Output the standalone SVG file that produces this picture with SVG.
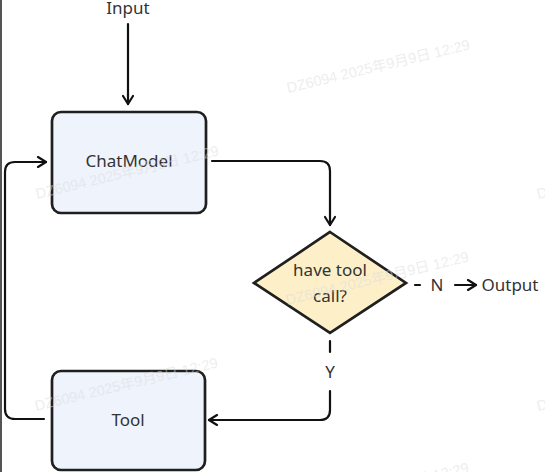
<svg xmlns="http://www.w3.org/2000/svg" width="545" height="472" viewBox="0 0 545 472">
<defs>
<style>
.node{stroke:#1f1f1f;stroke-width:2.7}
.box{fill:#eef3fc}
.dia{fill:#fdefc8}
.lbl{font-family:"Noto Sans","Open Sans",sans-serif;font-size:17px;fill:#333;text-anchor:middle}
.edge{fill:none;stroke:#111;stroke-width:2.2;stroke-linecap:round;stroke-linejoin:round}
.wm{font-family:"Liberation Sans","Noto Sans CJK SC",sans-serif;font-size:14.5px;fill:#dcdcdc;fill-opacity:0.5}
</style>
<marker id="arr" viewBox="0 0 12 12" refX="10" refY="6" markerWidth="12" markerHeight="12" markerUnits="userSpaceOnUse" orient="auto">
<path d="M2,1 L10,6 L2,11" fill="none" stroke="#111" stroke-width="2.2" stroke-linecap="round" stroke-linejoin="round"/>
</marker>
</defs>
<rect x="0" y="0" width="545" height="472" fill="#ffffff"/>
<rect x="0" y="0" width="2" height="472" fill="#555"/>
<g id="connectors">
<line class="edge" x1="128" y1="24" x2="128" y2="104" marker-end="url(#arr)"/>
<path class="edge" d="M212,161 H320 Q330,161 330,171 V225" marker-end="url(#arr)"/>
<line class="edge" x1="415" y1="285" x2="420" y2="285"/>
<line class="edge" x1="455" y1="285" x2="476" y2="285" marker-end="url(#arr)"/>
<line class="edge" x1="330" y1="341" x2="330" y2="352"/>
<path class="edge" d="M330,391 V410 Q330,420 320,420 H209" marker-end="url(#arr)"/>
<path class="edge" d="M44,419 H15 Q5,419 5,409 V172 Q5,162 15,162 H46" marker-end="url(#arr)"/>
</g>
<g id="input">
<text class="lbl" x="128" y="14">Input</text>
</g>
<g id="chatmodel">
<rect class="node box" x="52" y="112" width="154" height="101" rx="9"/>
<text class="lbl" x="129" y="167">ChatModel</text>
</g>
<g id="decision">
<path class="node dia" d="M330,232 L406,283 L330,333 L254,283 Z"/>
<text class="lbl" x="330" y="276">have tool</text>
<text class="lbl" x="330" y="302">call?</text>
</g>
<g id="labels">
<text class="lbl" x="437" y="291">N</text>
<text class="lbl" x="330" y="378">Y</text>
</g>
<g id="output">
<text class="lbl" x="510" y="291">Output</text>
</g>
<g id="tool">
<rect class="node box" x="52" y="371" width="153" height="99" rx="9"/>
<text class="lbl" x="128" y="426">Tool</text>
</g>
<g id="watermarks">
<text class="wm" transform="translate(288,93) rotate(-13.5)">DZ6094 2025年9月9日 12:29</text>
<text class="wm" transform="translate(37,199) rotate(-13.5)">DZ6094 2025年9月9日 12:29</text>
<text class="wm" transform="translate(538,199) rotate(-13.5)">DZ6094 2025年9月9日 12:29</text>
<text class="wm" transform="translate(287,305) rotate(-13.5)">DZ6094 2025年9月9日 12:29</text>
<text class="wm" transform="translate(36,411) rotate(-13.5)">DZ6094 2025年9月9日 12:29</text>
<text class="wm" transform="translate(538,411) rotate(-13.5)">DZ6094 2025年9月9日 12:29</text>
<text class="wm" transform="translate(287,516) rotate(-13.5)">DZ6094 2025年9月9日 12:29</text>
</g>
</svg>
